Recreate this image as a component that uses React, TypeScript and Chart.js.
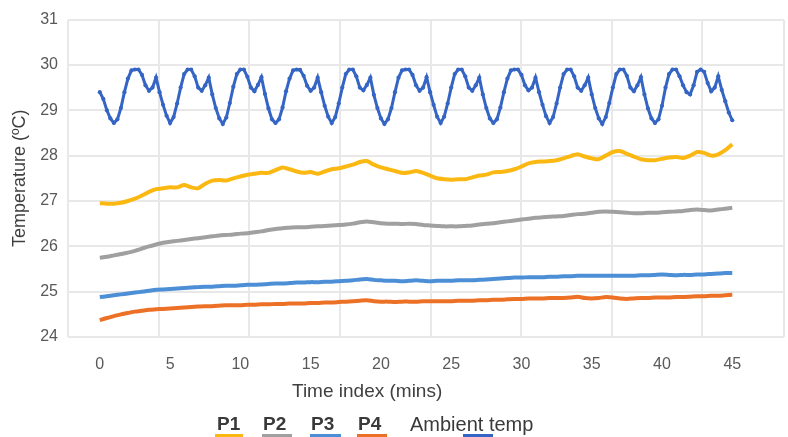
import React, { useEffect, useRef } from "react";
import { Chart, registerables } from "chart.js";

Chart.register(...registerables);

// Sample spacing (minutes)
const fineStep = 0.25;
const coarseStep = 0.5;

const xTickValues = [0, 5, 10, 15, 20, 25, 30, 35, 40, 45];
const yMin = 24;
const yMax = 31;

const seriesNames = ["P1", "P2", "P3", "P4", "Ambient temp"];
const seriesColors = ["#fcb812", "#a0a0a0", "#4d8fd6", "#ec7126", "#3565c4"];

const p1 = [
  26.95, 26.94, 26.94, 26.96, 27.0, 27.05, 27.12, 27.2, 27.26, 27.28,
  27.3, 27.3, 27.35, 27.3, 27.28, 27.38, 27.45, 27.46, 27.45, 27.5,
  27.54, 27.58, 27.6, 27.62, 27.62, 27.68, 27.74, 27.7, 27.65, 27.62,
  27.64, 27.6, 27.65, 27.7, 27.72, 27.76, 27.8, 27.86, 27.88, 27.8,
  27.74, 27.7, 27.66, 27.62, 27.63, 27.66, 27.62, 27.56, 27.5, 27.48,
  27.47, 27.48, 27.48, 27.52, 27.56, 27.58, 27.63, 27.64, 27.66, 27.7,
  27.76, 27.83, 27.86, 27.87, 27.88, 27.9, 27.94, 27.99, 28.03, 27.98,
  27.94, 27.92, 28.0, 28.08, 28.1, 28.04, 27.98, 27.92, 27.9, 27.9,
  27.93, 27.96, 27.97, 27.95, 28.0, 28.08, 28.06, 28.0, 28.03, 28.12,
  28.25,
];

const p2 = [
  25.75, 25.77, 25.8, 25.83, 25.86, 25.9, 25.95, 26.0, 26.04, 26.08,
  26.1, 26.12, 26.14, 26.16, 26.18, 26.2, 26.22, 26.24, 26.25, 26.26,
  26.28, 26.29, 26.31, 26.33, 26.36, 26.38, 26.4, 26.41, 26.42, 26.42,
  26.43, 26.44, 26.45, 26.46, 26.47, 26.48, 26.5, 26.53, 26.55, 26.53,
  26.51, 26.5, 26.5, 26.49, 26.5, 26.49, 26.47, 26.46, 26.45, 26.44,
  26.44, 26.44, 26.45, 26.46, 26.48, 26.5, 26.51, 26.53, 26.55, 26.57,
  26.59, 26.61, 26.63, 26.64, 26.65, 26.66, 26.67, 26.69, 26.71, 26.72,
  26.74, 26.76, 26.77, 26.76, 26.75, 26.74, 26.73, 26.73, 26.74, 26.74,
  26.75, 26.76, 26.77, 26.78, 26.8, 26.81, 26.8, 26.79, 26.81, 26.83,
  26.85,
];

const p3 = [
  24.88, 24.9, 24.92, 24.94, 24.96, 24.98, 25.0, 25.02, 25.04, 25.05,
  25.06, 25.07, 25.08, 25.09, 25.1, 25.11, 25.11, 25.12, 25.13, 25.13,
  25.14, 25.15, 25.15, 25.16, 25.17, 25.18, 25.18, 25.19, 25.2, 25.2,
  25.21, 25.21, 25.22, 25.22, 25.23, 25.24, 25.25, 25.27, 25.28, 25.26,
  25.25, 25.24, 25.24, 25.23, 25.24, 25.25, 25.24, 25.23, 25.24, 25.24,
  25.24, 25.25, 25.25, 25.25, 25.26, 25.27, 25.28, 25.29, 25.3, 25.31,
  25.31, 25.32, 25.32, 25.32, 25.33, 25.33, 25.34, 25.34, 25.35, 25.35,
  25.35, 25.35, 25.35, 25.35, 25.35, 25.35, 25.35, 25.36, 25.36, 25.37,
  25.38, 25.37, 25.36, 25.37, 25.37, 25.38, 25.38, 25.39, 25.4, 25.41,
  25.41,
];

const p4 = [
  24.37, 24.42, 24.46, 24.5, 24.53, 24.56, 24.58, 24.6, 24.61, 24.62,
  24.63, 24.64, 24.65, 24.66, 24.67, 24.68, 24.68, 24.69, 24.7, 24.7,
  24.7, 24.71, 24.71, 24.72, 24.72, 24.73, 24.73, 24.74, 24.74, 24.74,
  24.75, 24.75, 24.76, 24.76, 24.77, 24.78, 24.79, 24.8, 24.81, 24.79,
  24.78, 24.78, 24.77, 24.78, 24.78, 24.78, 24.79, 24.79, 24.79, 24.79,
  24.79, 24.8, 24.8, 24.8, 24.81, 24.81, 24.82, 24.82, 24.83, 24.84,
  24.84, 24.85, 24.85, 24.85, 24.86, 24.86, 24.86, 24.87, 24.89, 24.86,
  24.85, 24.86, 24.88, 24.87, 24.85, 24.84, 24.85, 24.86, 24.86, 24.87,
  24.87, 24.87, 24.88, 24.88, 24.89, 24.9, 24.9, 24.91, 24.91, 24.92,
  24.93,
];

const ambient = [
  29.4, 29.25, 29.0, 28.82,
  28.72, 28.8, 29.05, 29.4, 29.7, 29.88, 29.9, 29.9, 29.78, 29.55, 29.43, 29.5, 29.72, 29.4, 29.12, 28.88,
  28.72, 28.85, 29.15, 29.5, 29.8, 29.9, 29.9, 29.75, 29.5, 29.43, 29.55, 29.72, 29.35, 29.05, 28.82,
  28.7, 28.84, 29.16, 29.52, 29.8, 29.9, 29.9, 29.74, 29.5, 29.42, 29.56, 29.73, 29.36, 29.04, 28.8,
  28.72, 28.8, 29.06, 29.42, 29.7, 29.88, 29.9, 29.89, 29.76, 29.54, 29.43, 29.5, 29.72, 29.4, 29.1, 28.86,
  28.72, 28.85, 29.15, 29.5, 29.8, 29.9, 29.9, 29.75, 29.5, 29.44, 29.56, 29.72, 29.34, 29.05, 28.82,
  28.7, 28.8, 29.05, 29.4, 29.72, 29.88, 29.9, 29.9, 29.78, 29.55, 29.43, 29.5, 29.73, 29.4, 29.12, 28.86,
  28.72, 28.86, 29.15, 29.5, 29.8, 29.9, 29.9, 29.75, 29.5, 29.43, 29.55, 29.72, 29.35, 29.05, 28.82,
  28.72, 28.8, 29.06, 29.4, 29.7, 29.88, 29.9, 29.9, 29.78, 29.55, 29.44, 29.5, 29.72, 29.4, 29.12, 28.87,
  28.72, 28.85, 29.15, 29.5, 29.8, 29.9, 29.9, 29.75, 29.5, 29.43, 29.55, 29.72, 29.35, 29.05, 28.82,
  28.7, 28.85, 29.16, 29.5, 29.8, 29.9, 29.9, 29.76, 29.5, 29.42, 29.55, 29.73, 29.35, 29.04, 28.82,
  28.72, 28.8, 29.1, 29.5, 29.8, 29.9, 29.9, 29.75, 29.55, 29.4, 29.35, 29.55, 29.85, 29.9, 29.85, 29.6,
  29.42, 29.5, 29.75, 29.45, 29.2, 28.95, 28.78,
];

const FONT = "'Liberation Sans', Arial, Helvetica, sans-serif";

function toPoints(values: number[], step: number) {
  return values.map((v, i) => ({ x: i * step, y: v }));
}

export default function App() {
  const canvasRef = useRef<HTMLCanvasElement | null>(null);

  useEffect(() => {
    document.body.style.margin = "0";
    const canvas = canvasRef.current;
    if (!canvas) return;

    const pSeries = [p1, p2, p3, p4];
    const datasets: any[] = pSeries.map((vals, i) => ({
      label: seriesNames[i],
      data: toPoints(vals, coarseStep),
      borderColor: seriesColors[i],
      backgroundColor: seriesColors[i],
      borderWidth: 4,
      pointRadius: 0,
      tension: 0.2,
      xAxisID: "x",
      yAxisID: "y",
    }));
    datasets.push({
      label: seriesNames[4],
      data: toPoints(ambient, fineStep),
      borderColor: seriesColors[4],
      backgroundColor: seriesColors[4],
      borderWidth: 3,
      pointRadius: 2.1,
      pointBorderWidth: 0,
      tension: 0,
      xAxisID: "x",
      yAxisID: "y",
    });

    const gridColor = "#e8e8e8";

    const chart = new Chart(canvas, {
      type: "line",
      data: { datasets },
      options: {
        animation: false,
        responsive: false,
        maintainAspectRatio: false,
        layout: { padding: { top: 15, right: 0, bottom: 0, left: 0 } },
        plugins: { legend: { display: false }, tooltip: { enabled: false } },
        scales: {
          x: {
            type: "linear",
            position: "bottom",
            min: -2.264,
            max: 48.68,
            afterBuildTicks: (scale: any) => {
              scale.ticks = xTickValues.map((v) => ({ value: v }));
            },
            afterFit: (scale: any) => {
              scale.height = 100;
            },
            ticks: {
              font: { family: FONT, size: 16 },
              color: "#595959",
              padding: 18,
              maxRotation: 0,
              autoSkip: false,
            },
            grid: { display: false, drawTicks: false },
            border: { display: false },
          },
          x2: {
            type: "linear",
            position: "top",
            min: 0,
            max: 7.9,
            ticks: { display: false, stepSize: 1 },
            afterFit: (scale: any) => {
              scale.height = 0;
            },
            grid: { color: gridColor, lineWidth: 2, drawTicks: false },
            border: { display: false },
          },
          y: {
            type: "linear",
            min: yMin,
            max: yMax,
            ticks: {
              stepSize: 1,
              font: { family: FONT, size: 16 },
              color: "#595959",
              padding: 10,
            },
            afterFit: (scale: any) => {
              scale.width = 68;
            },
            grid: { color: gridColor, lineWidth: 2, drawTicks: false },
            border: { display: false },
            title: {
              display: true,
              text: "Temperature (ºC)",
              font: { family: FONT, size: 18 },
              color: "#404040",
              padding: { top: 9, bottom: 0 },
            },
          },
        },
      },
    });

    return () => {
      chart.destroy();
    };
  }, []);

  const legendText: React.CSSProperties = {
    position: "absolute",
    top: 413,
    fontFamily: FONT,
    fontSize: 19,
    lineHeight: "22px",
    color: "#3a3a3a",
    whiteSpace: "nowrap",
  };
  const legendItems = [
    { left: 217, sampleLeft: 215, sampleWidth: 28, bold: true },
    { left: 263, sampleLeft: 262, sampleWidth: 30, bold: true },
    { left: 311, sampleLeft: 310, sampleWidth: 31, bold: true },
    { left: 358, sampleLeft: 357, sampleWidth: 30, bold: true },
    { left: 410, sampleLeft: 463, sampleWidth: 30, bold: false },
  ];

  return (
    <div
      style={{
        position: "fixed",
        left: 0,
        top: 0,
        width: 788,
        height: 437,
        overflow: "hidden",
        background: "#ffffff",
      }}
    >
      <canvas ref={canvasRef} width={788} height={437} style={{ display: "block" }} />
      <div
        style={{
          position: "absolute",
          left: 292,
          top: 380,
          fontFamily: FONT,
          fontSize: 19,
          lineHeight: "22px",
          color: "#404040",
          whiteSpace: "nowrap",
        }}
      >
        Time index (mins)
      </div>
      {legendItems.map((it, i) => (
        <React.Fragment key={seriesNames[i]}>
          <div
            style={{
              ...legendText,
              left: it.left,
              fontWeight: it.bold ? "bold" : "normal",
              fontSize: it.bold ? 19 : 20,
            }}
          >
            {seriesNames[i]}
          </div>
          <div
            style={{
              position: "absolute",
              left: it.sampleLeft,
              top: 434,
              width: it.sampleWidth,
              height: 3,
              background: seriesColors[i],
            }}
          />
        </React.Fragment>
      ))}
    </div>
  );
}
